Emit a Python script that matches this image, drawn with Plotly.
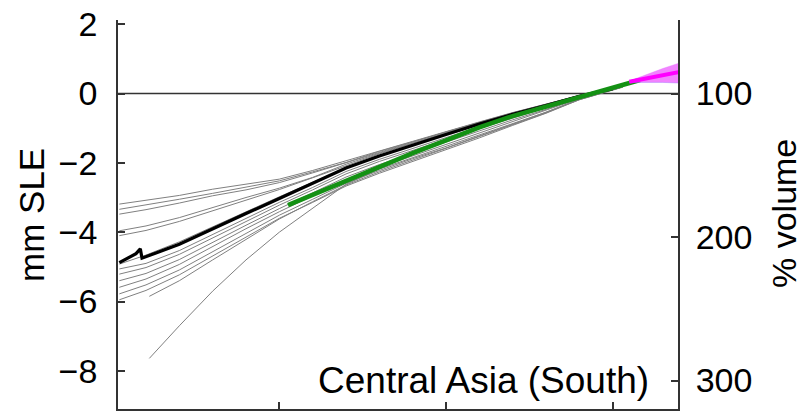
import plotly.graph_objects as go

# Decadal sampling years for the ensemble members
years = [1852, 1860, 1870, 1880, 1890, 1900, 1910, 1920, 1930, 1940,
         1950, 1960, 1970, 1980, 1990, 2003]
late_years = [1861, 1870, 1880, 1890, 1900, 1910, 1920, 1930, 1940,
              1950, 1960, 1970, 1980, 1990, 2003]

# Individual reconstructions (mm SLE)
members = [
    [-3.19, -3.07, -2.94, -2.76, -2.61, -2.47, -2.22, -1.95, -1.66, -1.38, -1.09, -0.82, -0.55, -0.31, -0.06, 0.22],
    [-3.34, -3.22, -3.05, -2.88, -2.69, -2.52, -2.26, -1.99, -1.67, -1.39, -1.10, -0.83, -0.56, -0.31, -0.06, 0.22],
    [-3.48, -3.35, -3.16, -2.95, -2.78, -2.57, -2.29, -1.99, -1.70, -1.40, -1.11, -0.83, -0.56, -0.32, -0.06, 0.22],
    [-3.96, -3.82, -3.58, -3.28, -3.00, -2.73, -2.42, -2.04, -1.72, -1.43, -1.13, -0.85, -0.57, -0.33, -0.07, 0.22],
    [-4.10, -3.95, -3.69, -3.38, -3.07, -2.77, -2.43, -2.08, -1.74, -1.44, -1.14, -0.85, -0.58, -0.33, -0.07, 0.22],
    [-4.92, -4.66, -4.28, -3.84, -3.40, -2.98, -2.56, -2.14, -1.80, -1.49, -1.19, -0.90, -0.62, -0.36, -0.09, 0.21],
    [-5.06, -4.90, -4.53, -4.06, -3.59, -3.14, -2.71, -2.25, -1.90, -1.58, -1.27, -0.96, -0.66, -0.39, -0.10, 0.21],
    [-5.21, -5.02, -4.64, -4.16, -3.68, -3.22, -2.78, -2.32, -1.96, -1.64, -1.33, -1.01, -0.71, -0.42, -0.11, 0.21],
    [-5.40, -5.19, -4.79, -4.29, -3.80, -3.32, -2.87, -2.41, -2.05, -1.72, -1.41, -1.08, -0.76, -0.46, -0.13, 0.20],
    [-5.59, -5.35, -4.93, -4.41, -3.90, -3.41, -2.96, -2.49, -2.13, -1.80, -1.48, -1.14, -0.81, -0.50, -0.15, 0.20],
    [-5.78, -5.52, -5.09, -4.56, -4.02, -3.51, -3.05, -2.59, -2.22, -1.88, -1.57, -1.22, -0.87, -0.54, -0.16, 0.19],
    [-5.95, -5.68, -5.23, -4.68, -4.13, -3.60, -3.14, -2.67, -2.30, -1.96, -1.64, -1.28, -0.92, -0.57, -0.18, 0.19],
]
late_members = [
    [-5.85, -5.40, -4.80, -4.20, -3.62, -3.12, -2.64, -2.26, -1.92, -1.60, -1.25, -0.90, -0.56, -0.17, 0.19],
    [-7.64, -6.70, -5.70, -4.80, -4.00, -3.30, -2.62, -2.18, -1.85, -1.52, -1.18, -0.86, -0.54, -0.18, 0.18],
]

# Ensemble mean
mean_years = [1852, 1857, 1858.3, 1858.8, 1870, 1880, 1890, 1900, 1910, 1920,
              1930, 1940, 1950, 1960, 1970, 1980, 1990, 2000]
mean_sle = [-4.88, -4.62, -4.48, -4.75, -4.35, -3.90, -3.46, -3.03, -2.60, -2.15,
            -1.80, -1.48, -1.18, -0.88, -0.60, -0.35, -0.08, 0.14]

# Observation-based estimate
obs_years = [1902.6, 1910, 1920, 1930, 1940, 1950, 1960, 1970, 1980, 1990, 2000, 2008.2]
obs_sle = [-3.22, -2.92, -2.55, -2.12, -1.72, -1.35, -0.98, -0.65, -0.38, -0.10, 0.15, 0.39]

# Projection with its spread
proj_years = [2005, 2010, 2015, 2020]
proj_sle = [0.34, 0.44, 0.53, 0.62]
proj_low = [0.32, 0.33, 0.32, 0.30]
proj_high = [0.36, 0.55, 0.72, 0.88]

x_ticks = [1900, 1950, 2000]
left_ticks = [2, 0, -2, -4, -6, -8]
right_ticks = [100, 200, 300]
MM_PER_100PCT = 4.14
Y_RANGE = [-9.1, 2.12]

FONT = "Liberation Sans, Arial, sans-serif"
AX = "#333333"
GRAY = "#808080"

fig = go.Figure()

for vals in members:
    fig.add_trace(go.Scatter(x=years, y=vals, mode="lines",
                             line=dict(color=GRAY, width=1), hoverinfo="skip"))
for vals in late_members:
    fig.add_trace(go.Scatter(x=late_years, y=vals, mode="lines",
                             line=dict(color=GRAY, width=1), hoverinfo="skip"))

fig.add_trace(go.Scatter(x=mean_years, y=mean_sle, mode="lines",
                         line=dict(color="black", width=3.2)))
fig.add_trace(go.Scatter(x=obs_years, y=obs_sle, mode="lines",
                         line=dict(color="rgb(20,145,20)", width=4.5)))

fig.add_trace(go.Scatter(x=proj_years, y=proj_high, mode="lines",
                         line=dict(color="rgba(225,110,255,0.7)", width=0.5)))
fig.add_trace(go.Scatter(x=proj_years, y=proj_low, mode="lines", fill="tonexty",
                         fillcolor="rgba(238,90,255,0.75)",
                         line=dict(color="rgba(140,110,255,0.7)", width=0.5)))
fig.add_trace(go.Scatter(x=proj_years, y=proj_sle, mode="lines",
                         line=dict(color="#ff00ff", width=4)))

# anchor trace for the volume axis
fig.add_trace(go.Scatter(x=[1900], y=[100], yaxis="y2", mode="markers",
                         marker=dict(opacity=0), hoverinfo="skip"))

vol_range = [100 - Y_RANGE[0] * 100 / MM_PER_100PCT,
             100 - Y_RANGE[1] * 100 / MM_PER_100PCT]

fig.update_layout(
    width=807, height=414,
    margin=dict(l=118, r=129, t=18, b=5),
    paper_bgcolor="white", plot_bgcolor="white",
    showlegend=False,
    font=dict(family=FONT, size=34, color="black"),
    xaxis=dict(range=[1851.6, 2019.6], tickvals=x_ticks, showticklabels=False,
               ticks="inside", ticklen=7, tickwidth=1.5, tickcolor=AX,
               showline=True, linecolor=AX, linewidth=1.8, showgrid=False,
               zeroline=False),
    yaxis=dict(range=Y_RANGE, tickvals=left_ticks, ticks="inside", ticklen=7,
               tickwidth=1.5, tickcolor=AX, showline=True, linecolor=AX,
               linewidth=1.8, showgrid=False, zeroline=False,
               ticklabelstandoff=12),
    yaxis2=dict(range=vol_range, tickvals=right_ticks, overlaying="y",
                side="right", ticks="inside", ticklen=7, tickwidth=1.5,
                tickcolor=AX, showline=True, linecolor=AX, linewidth=1.8,
                showgrid=False, zeroline=False, ticklabelstandoff=9),
    shapes=[dict(type="line", xref="paper", x0=0, x1=1, yref="y", y0=0, y1=0,
                 line=dict(color=AX, width=1.5), layer="below")],
    annotations=[
        dict(text="mm SLE", xref="paper", yref="paper", x=(32 - 118) / 560,
             y=(409 - 214) / 391, xanchor="center", yanchor="middle",
             showarrow=False, textangle=-90, font=dict(size=35)),
        dict(text="% volume", xref="paper", yref="paper", x=(784 - 118) / 560,
             y=(409 - 213) / 391, xanchor="center", yanchor="middle",
             showarrow=False, textangle=-90, font=dict(size=34)),
        dict(text="Central Asia (South)", xref="paper", yref="paper",
             x=(651 - 118) / 560, y=(409 - 380) / 391, xanchor="right",
             yanchor="middle", showarrow=False, font=dict(size=37)),
    ],
)

fig.write_html("out.html")
